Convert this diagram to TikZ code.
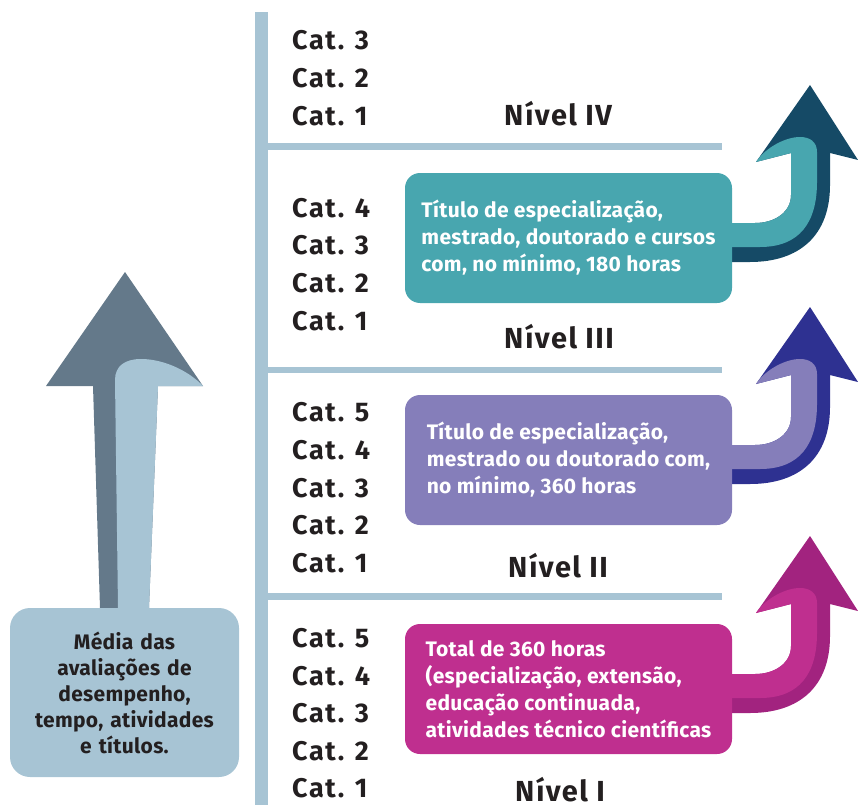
\documentclass[tikz,border=0pt]{standalone}
\usepackage{fontspec}
\setmainfont{Fira Sans}[LetterSpace=1.5]
\newfontfamily\catfont{Fira Sans}[LetterSpace=6]
\newfontfamily\levelfont{Fira Sans}[LetterSpace=5]
\usetikzlibrary{positioning}

\definecolor{barblue}{HTML}{A7C4D4}
\definecolor{slate}{HTML}{64798A}
\definecolor{inkdark}{HTML}{231F20}
\definecolor{tealbox}{HTML}{48A6AF}
\definecolor{tealdark}{HTML}{154A66}
\definecolor{lilacbox}{HTML}{857EBA}
\definecolor{lilacdark}{HTML}{2E3191}
\definecolor{rosebox}{HTML}{BF2F8F}
\definecolor{rosedark}{HTML}{A2237F}

% curved arrow leaving a box: dark colour, light colour, vertical shift
\newcommand{\levelarrow}[3]{%
  \fill[#1, shift={(0,#3)}] (720,262) -- (750,262) .. controls (800,262) and (830,235) .. (830,185)
    -- (830,153) -- (858,160) -- (810,85) -- (756,162) -- (791,153) -- (791,195)
    .. controls (791,212) and (775,223) .. (755,223) -- (720,223) -- cycle;
  \fill[#2, shift={(0,#3)}] (720,247) -- (760,247) .. controls (800,247) and (817,222) .. (817,182)
    -- (817,152) .. controls (817,142) and (810,137) .. (800,137)
    .. controls (785,137) and (765,148) .. (756,162) -- (791,153) -- (791,195)
    .. controls (791,212) and (775,223) .. (755,223) -- (720,223) -- cycle;
}

\begin{document}
\begin{tikzpicture}[x=1pt, y=-1pt,
    cat/.style={anchor=base west, inner sep=0pt, text=inkdark,
      font=\catfont\fontsize{27}{27}\selectfont\bfseries},
    nivel/.style={anchor=base, inner sep=0pt, text=inkdark,
      font=\levelfont\fontsize{29}{29}\selectfont\bfseries},
    infobox/.style={rounded corners=15pt, minimum width=327pt, minimum height=130pt,
      align=left, text=white, font=\fontsize{21}{27}\selectfont\bfseries}]
      \useasboundingbox (0,0) rectangle (858,805);

      % scale bars
      \fill[barblue] (255,12) rectangle (268,805);
      \fill[barblue] (268,143) rectangle (722,150);
      \fill[barblue] (268,367) rectangle (722,373);
      \fill[barblue] (268,593) rectangle (722,600);

      % left arrow
      \fill[slate] (100,608) -- (93,386) -- (46,386) -- (125,272) -- (203,386)
        -- (158,386) -- (149,608) -- cycle;
      \fill[barblue] (118,608) -- (115,380) .. controls (115,366) and (125,359) .. (141,359)
        .. controls (165,359) and (190,372) .. (203,386) -- (158,386) -- (149,608) -- cycle;
      \node[rounded corners=20pt, fill=barblue, minimum width=229pt, minimum height=169pt,
        text width=220pt, align=center, text=inkdark, inner sep=0pt,
        font=\fontsize{21}{26}\selectfont\bfseries] (media) at (124.5,692.5)
        {Média das\\avaliações de\\desempenho,\\tempo, atividades\\e títulos.};

      % level IV
      \node[cat] (c43) at (292,50) {Cat. 3};
      \node[cat] (c42) at (292,88) {Cat. 2};
      \node[cat] (c41) at (292,126) {Cat. 1};
      \node[nivel] (n4) at (558,126) {Nível IV};

      % level III
      \levelarrow{tealdark}{tealbox}{0}
      \node[cat] (c34) at (292,217) {Cat. 4};
      \node[cat] (c33) at (292,254) {Cat. 3};
      \node[cat] (c32) at (292,292) {Cat. 2};
      \node[cat] (c31) at (292,330) {Cat. 1};
      \node[nivel] (n3) at (559,348) {Nível III};
      \node[infobox, fill=tealbox] (t3) at (568.5,238)
        {Título de especialização,\\mestrado, doutorado e cursos\\com, no mínimo, 180 horas};

      % level II
      \levelarrow{lilacdark}{lilacbox}{222}
      \node[cat] (c25) at (292,421) {Cat. 5};
      \node[cat] (c24) at (292,459) {Cat. 4};
      \node[cat] (c23) at (292,497) {Cat. 3};
      \node[cat] (c22) at (292,534) {Cat. 2};
      \node[cat] (c21) at (292,572) {Cat. 1};
      \node[nivel] (n2) at (558,577) {Nível II};
      \node[infobox, fill=lilacbox] (t2) at (568.5,460)
        {Título de especialização,\\mestrado ou doutorado com,\\no mínimo, 360 horas};

      % level I
      \levelarrow{rosedark}{rosebox}{451}
      \node[cat] (c15) at (292,647) {Cat. 5};
      \node[cat] (c14) at (292,685) {Cat. 4};
      \node[cat] (c13) at (292,722) {Cat. 3};
      \node[cat] (c12) at (292,760) {Cat. 2};
      \node[cat] (c11) at (292,797) {Cat. 1};
      \node[nivel] (n1) at (560,801) {Nível I};
      \node[infobox, fill=rosebox] (t1) at (568.5,689)
        {Total de 360 horas\\(especialização, extensão,\\educação continuada,\\atividades técnico científicas};

   \end{tikzpicture}
\end{document}
